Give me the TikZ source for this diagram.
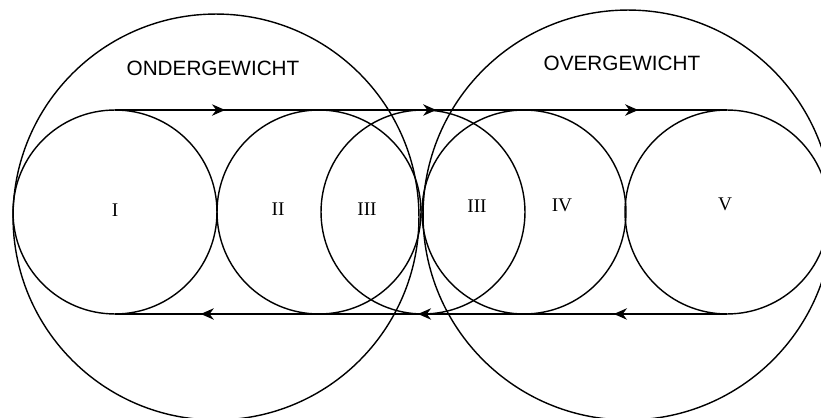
\documentclass[tikz,border=0pt]{standalone}
\usepackage{fontspec}
\setmainfont{Liberation Serif}
\setsansfont{Liberation Sans}
\usetikzlibrary{arrows.meta, decorations.markings}

\tikzset{
  ring/.style={circle, draw, line width=0.8pt, inner sep=0pt, outer sep=0pt, minimum size=4.08cm},
  bigring/.style={circle, draw, line width=0.8pt, inner sep=0pt, outer sep=0pt, minimum size=#1},
  flow/.style n args={3}{line width=0.8pt, postaction={decorate}, decoration={markings,
    mark=at position #1 with {\arrow{Stealth[length=7.5pt,width=6.5pt]}},
    mark=at position #2 with {\arrow{Stealth[length=7.5pt,width=6.5pt]}},
    mark=at position #3 with {\arrow{Stealth[length=7.5pt,width=6.5pt]}}}},
  zone/.style={font=\sffamily\fontsize{11.8}{13}\selectfont},
  stage/.style={font=\fontsize{11}{13}\selectfont},
}

\begin{document}
\begin{tikzpicture}[x=0.02cm, y=-0.02cm]
  \useasboundingbox (0,0) rectangle (821,418);
  \clip (0,0) rectangle (821,418);

  % two weight zones
  \node[bigring=8.12cm] (under) at (216,217) {};
  \node[bigring=8.2cm] (over) at (628,215) {};

  % stages
  \node[ring] (c1) at (115,212) {};
  \node[ring] (c2) at (319,212) {};
  \node[ring] (c3) at (423,212) {};
  \node[ring] (c4) at (524,212) {};
  \node[ring] (c5) at (727,212) {};

  \draw[flow={0.18}{0.525}{0.855}] (c1.north) -- (c5.north);
  \draw[flow={0.185}{0.505}{0.86}] (c5.south) -- (c1.south);

  \node[zone] (lunder) at (213,68) {ONDERGEWICHT};
  \node[zone] (lover) at (622,63) {OVERGEWICHT};

  \node[stage] (l1) at (115,210) {I};
  \node[stage] (l2) at (278,209) {II};
  \node[stage] (l3a) at (367,209) {III};
  \node[stage] (l3b) at (477,206) {III};
  \node[stage] (l4) at (562,205) {IV};
  \node[stage] (l5) at (725,204) {V};
\end{tikzpicture}
\end{document}
